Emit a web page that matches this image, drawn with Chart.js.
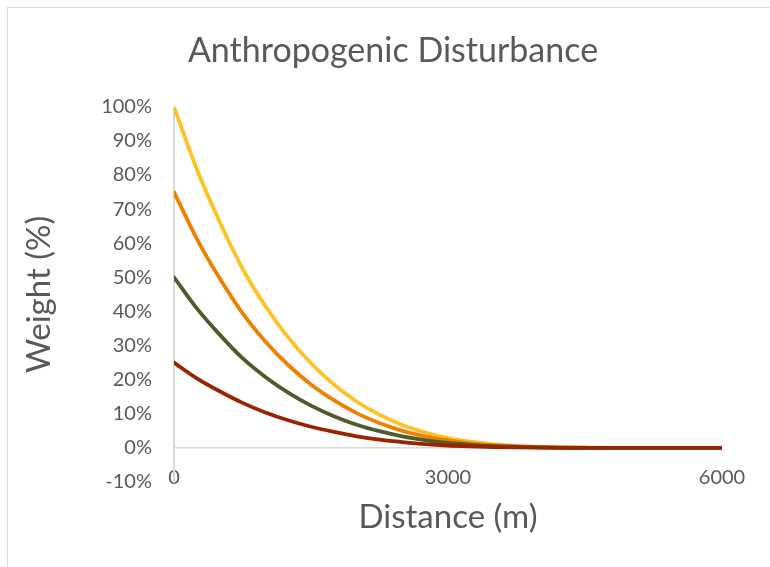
<!DOCTYPE html>
<html>
<head>
<meta charset="utf-8">
<script src="https://cdn.jsdelivr.net/npm/chart.js@4/dist/chart.umd.min.js"></script>
<style>
  html, body { margin: 0; padding: 0; background: #fff; overflow: hidden; }
  #frame { position: absolute; left: 7px; top: 7px; width: 800px; height: 600px; border: 1px solid #d9d9d9; }
  #wrap { position: absolute; left: 0; top: 0; width: 770px; height: 567px; }
</style>
</head>
<body>
<div id="frame"></div>
<div id="wrap"><canvas id="lineChart" width="770" height="567"></canvas></div>
<script>
// distance (m) and weights (%)
var distance = [0, 250, 500, 750, 1000, 1250, 1500, 1750, 2000, 2250, 2500, 2750, 3000, 3250, 3500, 3750, 4000, 4250, 4500, 4750, 5000, 5500, 6000];
var weight100 = [100, 81.7, 66.3, 52.6, 41.6, 32.4, 24.8, 18.6, 13.6, 9.7, 6.7, 4.5, 2.9, 1.8, 1.05, 0.6, 0.3, 0.13, 0.05, 0, 0, 0, 0];
var weight75 = [75, 61.3, 49.7, 39.5, 31.2, 24.3, 18.6, 14.0, 10.2, 7.3, 5.0, 3.4, 2.2, 1.35, 0.8, 0.45, 0.22, 0.1, 0.04, 0, 0, 0, 0];
var weight50 = [50, 40.9, 33.2, 26.3, 20.8, 16.2, 12.4, 9.3, 6.8, 4.9, 3.4, 2.3, 1.45, 0.9, 0.5, 0.3, 0.15, 0.07, 0.03, 0, 0, 0, 0];
var weight25 = [25, 20.4, 16.6, 13.2, 10.4, 8.1, 6.2, 4.7, 3.4, 2.4, 1.7, 1.1, 0.7, 0.45, 0.26, 0.15, 0.08, 0.03, 0.01, 0, 0, 0, 0];
var xTicks = [0, 3000, 6000];
var yTicks = [-10, 0, 10, 20, 30, 40, 50, 60, 70, 80, 90, 100];

var textColor = "#595959";
var fontName = "Lato";

function points(values) {
    return distance.map(function (d, i) { return { x: d, y: values[i] }; });
}

function series(values, color) {
    return {
        data: points(values),
        borderColor: color,
        backgroundColor: color,
        borderWidth: 3.8,
        borderCapStyle: "round",
        pointRadius: 0,
        cubicInterpolationMode: "monotone",
        fill: false
    };
}

// first dataset is drawn on top
var lineData = {
    datasets: [
        series(weight25, "#9A2400"),
        series(weight50, "#4F5B2B"),
        series(weight75, "#F08000"),
        series(weight100, "#FFC125")
    ]
};

// x labels sit level with the -10% line, so lift the x scale box a little;
// the title is centred on the whole frame, not on the plot
var nudgeBoxes = {
    id: "nudgeBoxes",
    afterLayout: function (chart) {
        chart.scales.x.top -= 16;
        if (chart.titleBlock) {
            chart.titleBlock.left += 24;
            chart.titleBlock.right += 24;
        }
    }
};

var ctx = document.getElementById("lineChart").getContext("2d");
var myLineChart = new Chart(ctx, {
    type: "line",
    data: lineData,
    plugins: [nudgeBoxes],
    options: {
        responsive: false,
        animation: false,
        layout: { padding: { left: 16, right: 48, top: 0, bottom: 26 } },
        plugins: {
            legend: { display: false },
            tooltip: { enabled: false },
            title: {
                display: true,
                text: "Anthropogenic Disturbance",
                color: textColor,
                font: { family: fontName, size: 34, weight: "normal" },
                padding: { top: 31, bottom: 35 }
            }
        },
        scales: {
            x: {
                type: "linear",
                min: 0,
                max: 6000,
                afterBuildTicks: function (s) { s.ticks = xTicks.map(function (v) { return { value: v }; }); },
                afterFit: function (s) { s.height = 567 - 26 - 482; },
                grid: { display: false, drawTicks: false },
                border: { display: false },
                ticks: {
                    color: textColor,
                    font: { family: fontName, size: 20 },
                    padding: 0,
                    maxRotation: 0,
                    callback: function (v) { return String(v); }
                },
                title: {
                    display: true,
                    text: "Distance (m)",
                    color: textColor,
                    font: { family: fontName, size: 33 },
                    padding: { top: 0, bottom: 4 }
                }
            },
            y: {
                min: -10,
                max: 100,
                afterBuildTicks: function (s) { s.ticks = yTicks.map(function (v) { return { value: v }; }); },
                afterFit: function (s) { s.width = 174 - 16; },
                grid: {
                    drawTicks: false,
                    color: function (c) { return c.tick && c.tick.value === 0 ? "#d9d9d9" : "rgba(0,0,0,0)"; },
                    lineWidth: 1.5
                },
                border: { display: true, color: "#d9d9d9", width: 2 },
                ticks: {
                    color: textColor,
                    font: { family: fontName, size: 20 },
                    padding: 22,
                    callback: function (v) { return v + "%"; }
                },
                title: {
                    display: true,
                    text: "Weight (%)",
                    color: textColor,
                    font: { family: fontName, size: 33 },
                    padding: { top: 4, bottom: 4 }
                }
            }
        }
    }
});
</script>
</body>
</html>
